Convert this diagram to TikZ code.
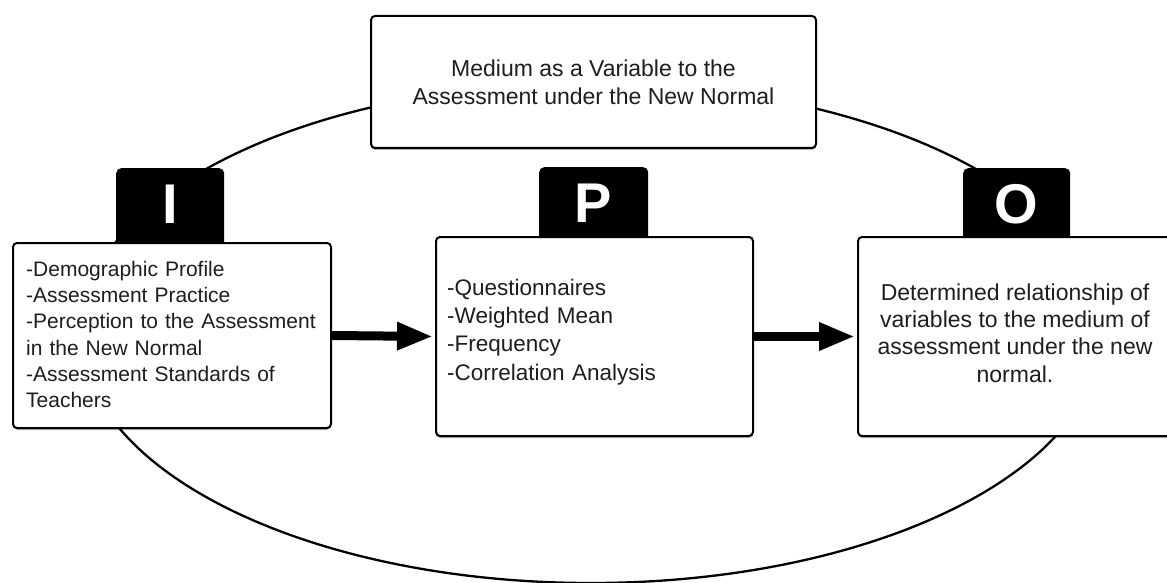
\documentclass[tikz,border=0pt]{standalone}
\usepackage{fontspec}
\setmainfont{Liberation Sans}
\usetikzlibrary{arrows.meta,shadows}
\definecolor{txt}{HTML}{1E1E1E}
\begin{document}
\begin{tikzpicture}[x=1pt,y=-1pt,
  box/.style={draw=black, line width=2pt, rounded corners=4pt, fill=white,
    drop shadow={shadow xshift=0pt, shadow yshift=-2pt, opacity=0.3, fill=black},
    anchor=north west, inner sep=0pt, text=txt},
  tab/.style={fill=black, rounded corners=5pt, anchor=north west, inner sep=0pt,
    text=white, font=\fontsize{56}{60}\selectfont\bfseries},
  bigarrow/.style={line width=9pt, -{Triangle[length=36pt,width=26pt]}, shorten >=2pt}
]
\useasboundingbox (0,0) rectangle (1167,583);
\clip (0,0) rectangle (1167,583);
% ellipse
\draw[line width=2.3pt] (591,333) ellipse [x radius=510pt, y radius=250pt];
% title
\node[box, minimum width=445pt, minimum height=132pt, align=center,
  font=\fontsize{23}{28}\selectfont] (title) at (370,15)
  {Medium as a Variable to the\\Assessment under the New Normal};
% tabs
\node[tab, minimum width=108pt, minimum height=80pt] (tabI) at (116,168) {};
\node[tab, minimum width=109pt, minimum height=80pt] (tabP) at (539,167) {};
\node[tab, minimum width=107pt, minimum height=80pt] (tabO) at (963,168) {};
\node[text=white, font=\fontsize{56}{60}\selectfont\bfseries] (lI) at (170,204) {I};
\node[text=white, font=\fontsize{56}{60}\selectfont\bfseries] (lP) at (593.5,203) {P};
\node[text=white, font=\fontsize{56}{60}\selectfont\bfseries] (lO) at (1016.5,204) {O};
% boxes
\node[box, minimum width=318pt, minimum height=185pt] (boxI) at (12,242) {};
\node[anchor=west, align=left, text width=300pt, text=txt,
  font=\fontsize{21}{26.3}\selectfont, inner sep=0pt] (tI) at (26,334.5)
  {-Demographic Profile\\-Assessment Practice\\-Perception to the Assessment\\in the New Normal\\-Assessment Standards of\\Teachers};
\node[box, minimum width=317pt, minimum height=199pt] (boxP) at (435,236) {};
\node[anchor=west, align=left, text width=290pt, text=txt,
  font=\fontsize{22.5}{28.3}\selectfont, inner sep=0pt] (tP) at (447,332)
  {-Questionnaires\\-Weighted Mean\\-Frequency\\-Correlation Analysis};
\node[box, minimum width=320pt, minimum height=199pt] (boxO) at (857,236) {};
\node[align=center, text=txt, font=\fontsize{23}{27.3}\selectfont, inner sep=0pt] (tO) at (1015,333)
  {Determined relationship of\\variables to the medium of\\assessment under the new\\normal.};
% arrows
\draw[bigarrow] (boxI.east) -- (boxP.west);
\draw[bigarrow] (boxP.west -| boxP.east) -- (boxO.west);
\end{tikzpicture}
\end{document}
